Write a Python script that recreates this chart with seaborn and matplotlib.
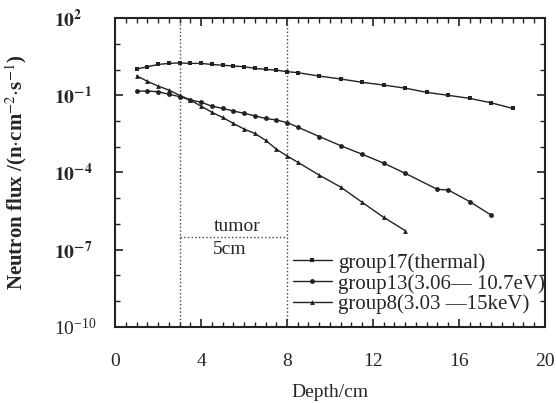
import numpy as np
import pandas as pd
import matplotlib.pyplot as plt
import seaborn as sns
from matplotlib.ticker import LogLocator, MultipleLocator, FixedLocator, NullFormatter

sns.set_style("ticks")
plt.rcParams['font.family'] = ['Liberation Serif', 'DejaVu Serif']
plt.rcParams['mathtext.fontset'] = 'stix'

# depth (cm) for each group
depth17 = [1, 1.5, 2, 2.5, 3, 3.5, 4, 4.5, 5, 5.5, 6, 6.5, 7, 7.5, 8,
           8.5, 9.5, 10.5, 11.5, 12.5, 13.5, 14.5, 15.5, 16.5, 17.5, 18.5]
flux17 = [1.05, 1.29, 1.58, 1.74, 1.82, 1.74, 1.74, 1.58, 1.48, 1.38, 1.29, 1.12, 1.02, 0.95, 0.83,
          0.76, 0.56, 0.43, 0.32, 0.25, 0.19, 0.13, 0.10, 0.076, 0.051, 0.031]

depth13 = [1, 1.5, 2, 2.5, 3, 3.5, 4, 4.5, 5, 5.5, 6, 6.5, 7, 7.5, 8,
           8.5, 9.5, 10.5, 11.5, 12.5, 13.5, 15, 15.5, 16.5, 17.5]
flux13 = [0.146, 0.146, 0.138, 0.11, 0.089, 0.066, 0.054, 0.038, 0.031, 0.0245, 0.02, 0.016, 0.0126, 0.011, 0.0087,
          5.8e-3, 2.5e-3, 1.1e-3, 5.1e-4, 2.3e-4, 9.3e-5, 2.2e-5, 2.1e-5, 7.4e-6, 2.2e-6]

depth8 = [1, 1.5, 2, 2.5, 3, 3.5, 4, 4.5, 5, 5.5, 6, 6.5, 7, 7.5, 8,
          8.5, 9.5, 10.5, 11.5, 12.5, 13.5]
flux8 = [0.58, 0.35, 0.23, 0.16, 0.10, 0.066, 0.038, 0.022, 0.0138, 8.1e-3, 4.9e-3, 3.3e-3, 1.8e-3, 8.1e-4, 4.4e-4,
         2.5e-4, 7.9e-5, 2.7e-5, 6.9e-6, 1.8e-6, 5.5e-7]

labels = ['group17(thermal)', 'group13(3.06\u2014 10.7eV)', 'group8(3.03 \u201415keV)']

df = pd.concat([
    pd.DataFrame({'depth': depth17, 'flux': flux17, 'group': labels[0]}),
    pd.DataFrame({'depth': depth13, 'flux': flux13, 'group': labels[1]}),
    pd.DataFrame({'depth': depth8, 'flux': flux8, 'group': labels[2]}),
])

fig = plt.figure(figsize=(5.56, 4.03), dpi=100)
ax = fig.add_axes([0.207, 0.189, 0.773, 0.766])

ax.axvline(3, color='#444444', ls=':', lw=1)
ax.axvline(8, color='#444444', ls=':', lw=1)

sns.lineplot(data=df, x='depth', y='flux', hue='group', style='group',
             palette=['#222222'] * 3, markers=['s', 'o', '^'], dashes=False,
             markersize=3.5, lw=1, markeredgewidth=0, ax=ax)

ax.set_yscale('log')
ax.set_xlim(0, 20)
ax.set_ylim(1e-10, 1e2)

ax.set_xticks([0, 4, 8, 12, 16, 20])
ax.xaxis.set_minor_locator(MultipleLocator(0.5))
ax.yaxis.set_major_locator(FixedLocator([1e-10, 1e-7, 1e-4, 1e-1, 1e2]))
ax.yaxis.set_minor_locator(LogLocator(base=10, subs=(1.0,), numticks=20))
ax.yaxis.set_minor_formatter(NullFormatter())
ax.set_yticklabels(['$\\mathregular{10^{-10}}$', '$\\mathbf{10^{-7}}$', '$\\mathbf{10^{-4}}$',
                    '$\\mathbf{10^{-1}}$', '$\\mathbf{10^{2}}$'])
ax.tick_params(which='both', direction='in', top=True, right=True, color='#222222')
ax.tick_params(which='major', length=6, width=1.2, labelsize=14)
ax.tick_params(which='minor', length=3.5, width=1)
ax.tick_params(axis='x', pad=19)
ax.tick_params(axis='y', pad=44)
for lab in ax.get_yticklabels():
    lab.set_horizontalalignment('left')
for s in ax.spines.values():
    s.set_linewidth(1.5)
    s.set_color('#222222')

# tumor marker
ax.plot([3, 8], [10 ** -6.5, 10 ** -6.5], ls=':', color='#444444', lw=1)
ax.text(5.7, 10 ** -6.1, 'tumor', ha='center', va='center', fontsize=14)
ax.text(5.35, 10 ** -7.01, '5cm', ha='center', va='center', fontsize=14)

ax.set_xlabel('Depth/cm', fontsize=14)
ax.xaxis.set_label_coords(0.5, -0.185)
ax.set_ylabel('Neutron flux /(n$\\cdot$cm$^{-2}$$\\cdot$s$^{-1}$)', fontsize=15,
              fontweight='bold')
ax.yaxis.set_label_coords(-0.2, 0.5)

ax.legend(loc='lower right', bbox_to_anchor=(1.03, 0.0), frameon=False,
          fontsize=15, handlelength=1.9, handletextpad=0.3, labelspacing=0.05,
          borderaxespad=0.2)

fig.savefig('out.png', dpi=100)
